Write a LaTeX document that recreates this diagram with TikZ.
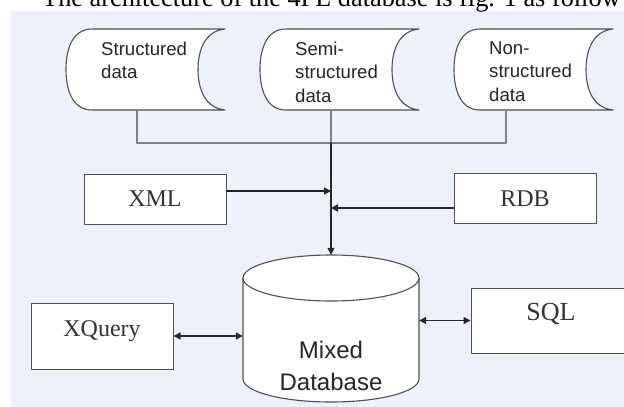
\documentclass[tikz,border=0pt]{standalone}
\usepackage{fontspec}
\setmainfont{Liberation Serif}
\setsansfont{Liberation Sans}
\usetikzlibrary{calc,arrows.meta}
\definecolor{bgblue}{RGB}{237,241,250}
\definecolor{edgegray}{HTML}{505050}

\tikzset{
  tape/.style={draw=edgegray,fill=white,line width=1.1pt},
  datatxt/.style={font=\sffamily\fontsize{18.6}{23.5}\selectfont,align=left,inner sep=0pt,text=black!85},
  feed/.style={draw=gray,line width=1.1pt},
  srcbox/.style={draw=edgegray,fill=white,line width=1pt,minimum width=142pt,minimum height=50pt,
    font=\fontsize{24}{28}\selectfont,text=black!80},
  qbox/.style={draw=edgegray,fill=white,line width=1pt,text height=16pt,text depth=16pt,
    font=\fontsize{24}{28}\selectfont,text=black!80},
  flow/.style={draw=black!85,line width=1.4pt,-{Triangle[length=7pt,width=7pt]}},
  both/.style={draw=black!85,line width=1.4pt,{Triangle[length=7pt,width=7pt]}-{Triangle[length=7pt,width=7pt]}}
}

\begin{document}
\begin{tikzpicture}[x=1pt,y=-1pt,line cap=round,line join=round]
  \useasboundingbox (0,0) rectangle (624,407);
  \fill[bgblue] (11,11) rectangle (624,407);
  \node[anchor=base west,inner sep=0pt,font=\fontsize{26.3}{30}\selectfont] (title) at (42,6.5)
    {The architecture of the 4PL database is fig. 1 as follow};

  % stored data shapes
  \foreach \nm/\x/\s/\txt in {sd/66/71/{Structured\\data},ssd/260/71/{Semi-\\structured\\data},nsd/454/52/{Non-\\structured\\data}}{
    \draw[tape] (\x+26,29) -- (\x+159,29)
      .. controls (\x+139,31) and (\x+132,50) .. (\x+132,69.5)
      .. controls (\x+132,89) and (\x+139,108) .. (\x+159,110)
      -- (\x+26,110)
      .. controls (\x+6,110) and (\x,89) .. (\x,69.5)
      .. controls (\x,50) and (\x+6,29) .. cycle;
    \node[datatxt,anchor=north west] (\nm) at (\x+35,41.5) {\txt};
    \coordinate (\nm-s) at (\x+\s,110);
  }
  \coordinate (jn) at (331,143);
  \draw[feed] (sd-s) |- (jn) -| (nsd-s);
  \draw[feed] (ssd-s) -- (jn);

  % mixed database
  \draw[edgegray,line width=1.1pt,fill=white] (243,278) -- (243,379)
    arc[start angle=180,end angle=0,x radius=88,y radius=23] -- (419,278);
  \draw[edgegray,line width=1.1pt,fill=white] (331,278) ellipse[x radius=88,y radius=23];
  \node[inner sep=0pt,minimum width=176pt,minimum height=147pt] (db) at (331,328.5) {};
  \node[font=\sffamily\fontsize{24}{32}\selectfont,align=center,inner sep=0pt,text=black!85] (dbtxt) at (331,366) {Mixed\\Database};

  % sources and query languages
  \node[srcbox] (xml) at (155,199) {XML};
  \node[srcbox] (rdb) at (525,198.5) {RDB};
  \node[qbox,minimum width=142pt,minimum height=66pt] (xq) at (102,336) {XQuery};
  \node[qbox,minimum width=160pt,minimum height=65pt,font=\fontsize{26}{30}\selectfont] (sql) at (551,320.5) {SQL};

  \coordinate (xmlout) at ([yshift=8pt]xml.east);
  \coordinate (rdbout) at ([yshift=-9.5pt]rdb.west);
  \draw[flow,line width=1.2pt] (xmlout) -- (xmlout -| jn);
  \draw[flow,line width=1.8pt] (rdbout) -- (rdbout -| jn);
  \draw[flow] (jn) -- (db.north);
  \draw[both] (xq.east) -- (xq.east -| db.west);
  \draw[both] (sql.west) -- (sql.west -| db.east);
\end{tikzpicture}
\end{document}
